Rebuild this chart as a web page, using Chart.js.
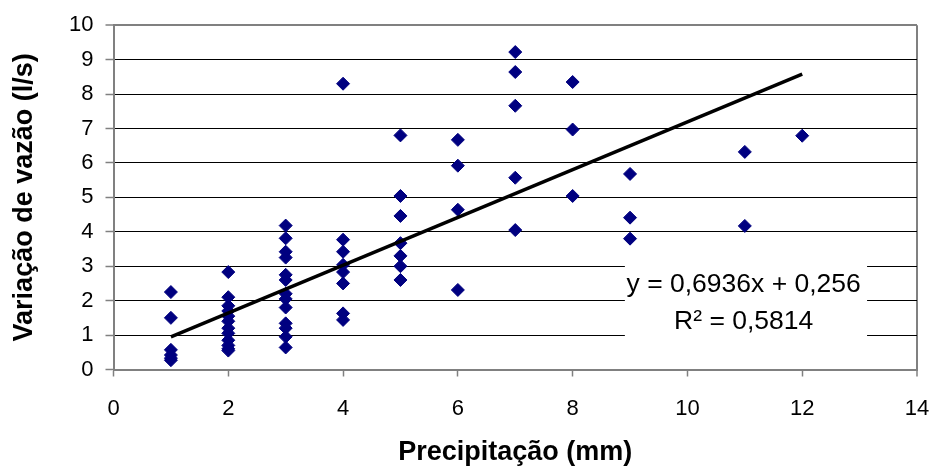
<!DOCTYPE html>
<html>
<head>
<meta charset="utf-8">
<script src="https://cdn.jsdelivr.net/npm/chart.js@4.4.0/dist/chart.umd.min.js"></script>
<style>
  html, body { margin: 0; padding: 0; background: #ffffff; }
  #wrap { width: 935px; height: 468px; }
</style>
</head>
<body>
<div id="wrap"><canvas id="c" width="935" height="468"></canvas></div>
<script>
// Observed points: precipitation (mm) and flow variation (l/s)
const precipX = [
  1,1,1,1,1,1,
  2,2,2,2,2,2,2,2,2,2,2,2,
  3,3,3,3,3,3,3,3,3,3,3,3,3,
  4,4,4,4,4,4,4,4,
  5,5,5,5,5,5,5,
  6,6,6,6,
  7,7,7,7,7,
  8,8,8,
  9,9,9,
  11,11,
  12
];
const vazaoY = [
  2.25,1.5,0.57,0.42,0.33,0.27,
  2.83,2.1,1.85,1.7,1.55,1.4,1.2,1.05,0.85,0.7,0.6,0.55,
  4.18,3.81,3.42,3.25,2.75,2.6,2.2,2.05,1.8,1.34,1.2,0.95,0.64,
  8.3,3.77,3.42,3.04,2.83,2.5,1.63,1.44,
  6.8,5.04,4.46,3.67,3.3,3.0,2.6,
  6.67,5.92,4.64,2.31,
  9.22,8.64,7.66,5.57,4.05,
  8.35,6.97,5.04,
  5.68,4.41,3.8,
  6.32,4.17,
  6.79
];
// Linear trend line endpoints
const trendX = [1, 12];
const trendY = [0.95, 8.58];
// Axis ticks
const xTicks = [0, 2, 4, 6, 8, 10, 12, 14];
const yTicks = [0, 1, 2, 3, 4, 5, 6, 7, 8, 9, 10];
// Texts
const xTitle = 'Precipitação (mm)';
const yTitle = 'Variação de vazão (l/s)';
const eqLine1 = 'y = 0,6936x + 0,256';
const eqLine2 = 'R² = 0,5814';

const scatterPts = precipX.map((x, i) => ({x: x, y: vazaoY[i]}));
const trendPts = trendX.map((x, i) => ({x: x, y: trendY[i]}));

const GRAY = '#808080';
const FONT = '"Liberation Sans", Arial, sans-serif';

const eqPlugin = {
  id: 'eqLabel',
  afterDatasetsDraw(chart) {
    const ctx = chart.ctx;
    const xs = chart.scales.x, ys = chart.scales.y;
    const x0 = xs.getPixelForValue(8.91), x1 = xs.getPixelForValue(13.13);
    const y0 = ys.getPixelForValue(3.1), y1 = ys.getPixelForValue(0.86);
    ctx.save();
    ctx.fillStyle = '#ffffff';
    ctx.fillRect(x0, y0, x1 - x0, y1 - y0);
    ctx.fillStyle = '#000000';
    ctx.font = '26.5px ' + FONT;
    ctx.textAlign = 'center';
    ctx.textBaseline = 'middle';
    const cx = xs.getPixelForValue(10.98);
    ctx.fillText(eqLine1, cx, ys.getPixelForValue(2.45));
    ctx.fillText(eqLine2, cx, ys.getPixelForValue(1.38));
    ctx.restore();
  }
};

new Chart(document.getElementById('c'), {
  type: 'scatter',
  data: {
    datasets: [
      {
        type: 'line',
        data: trendPts,
        borderColor: '#000000',
        borderWidth: 3.5,
        pointRadius: 0,
        fill: false,
        order: 0
      },
      {
        data: scatterPts,
        pointStyle: 'rectRot',
        pointRadius: 6.5,
        pointBackgroundColor: '#000080',
        pointBorderColor: '#000080',
        pointBorderWidth: 1,
        order: 1
      }
    ]
  },
  options: {
    responsive: false,
    animation: false,
    devicePixelRatio: 1,
    layout: { padding: { left: 0, right: 18, top: 25, bottom: 0 } },
    plugins: { legend: { display: false }, tooltip: { enabled: false } },
    scales: {
      x: {
        type: 'linear',
        min: 0, max: 14,
        afterBuildTicks(s) { s.ticks = xTicks.map(v => ({value: v})); },
        afterFit(s) { s.height = 98.5; s.paddingLeft = 0; s.paddingRight = 0; },
        grid: {
          color: c => (c.tick && c.tick.value === 14) ? GRAY : 'rgba(0,0,0,0)',
          lineWidth: c => (c.tick && c.tick.value === 14) ? 2 : 1,
          tickColor: GRAY,
          tickLength: 7,
          tickWidth: 1.5
        },
        border: { color: GRAY, width: 2 },
        ticks: {
          color: '#000000',
          padding: 19,
          maxRotation: 0,
          font: { family: FONT, size: 22 }
        },
        title: {
          display: true,
          text: xTitle,
          color: '#000000',
          padding: { top: 0, bottom: 0 },
          font: { family: FONT, size: 27, weight: 'bold', lineHeight: 1.15 }
        }
      },
      y: {
        type: 'linear',
        min: 0, max: 10,
        afterBuildTicks(s) { s.ticks = yTicks.map(v => ({value: v})); },
        afterFit(s) { s.width = 113.5; },
        grid: {
          color: c => {
            const v = c.tick ? c.tick.value : null;
            if (v === 10 || v === 0) return GRAY;
            return '#000000';
          },
          lineWidth: c => (c.tick && c.tick.value === 10) ? 2 : 1,
          tickColor: GRAY,
          tickLength: 8,
          tickWidth: 1.5
        },
        border: { color: GRAY, width: 2 },
        ticks: {
          color: '#000000',
          padding: 12,
          font: { family: FONT, size: 22 }
        },
        title: {
          display: true,
          text: yTitle,
          color: '#000000',
          padding: { top: 8, bottom: 0 },
          font: { family: FONT, size: 27, weight: 'bold', lineHeight: 1.2 }
        }
      }
    }
  },
  plugins: [eqPlugin]
});
</script>
</body>
</html>
